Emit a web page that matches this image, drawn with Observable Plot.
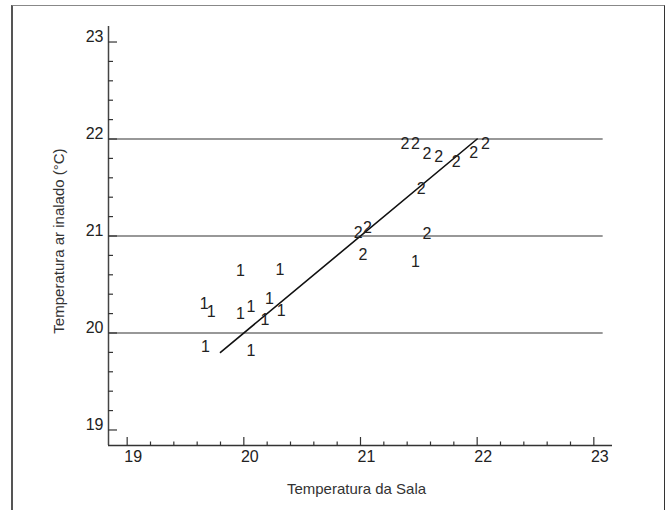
<!DOCTYPE html>
<html><head><meta charset="utf-8">
<script src="https://cdn.jsdelivr.net/npm/d3@7"></script>
<script src="https://cdn.jsdelivr.net/npm/@observablehq/plot@0.6"></script>
<style>
html,body{margin:0;padding:0;background:#fff;overflow:hidden;}
#wrap{position:relative;width:668px;height:510px;overflow:hidden;}
#frame{position:absolute;left:11px;top:5px;width:651px;height:600px;border-left:2px solid #555;border-top:1px solid #888;border-right:1px solid #333;}
#chart{position:absolute;left:0;top:0;}
</style></head><body>
<div id="wrap"><div id="frame"></div><div id="chart"></div></div>
<script>
// ---- data ----
const xTitle = "Temperatura da Sala";
const yTitle = "Temperatura ar inalado (°C)";
const xDomain = [18.84, 23.16];
const yDomain = [18.84, 23.16];
const xTicks = [19, 20, 21, 22, 23];
const yTicks = [19, 20, 21, 22, 23];
const xMinor = [19.2, 19.4, 19.6, 19.8, 20.2, 20.4, 20.6, 20.8, 21.2, 21.4, 21.6, 21.8, 22.2, 22.4, 22.6, 22.8];
const yMinor = [19.2, 19.4, 19.6, 19.8, 20.2, 20.4, 20.6, 20.8, 21.2, 21.4, 21.6, 21.8, 22.2, 22.4, 22.6, 22.8];
const gridY = [20, 21, 22];
const gridEnd = 23.08;
// point labels (group) and positions
const ptLabel = ["1","1","1","1","1","1","1","1","1","1","1","1",
                 "2","2","2","2","2","2","2","2","2","2","2","2"];
const ptX = [19.97, 20.31, 19.66, 19.72, 19.97, 20.06, 20.22, 20.18, 20.32, 19.67, 20.06, 21.47,
             21.38, 21.47, 21.57, 21.67, 21.82, 21.97, 22.07, 21.52, 20.98, 21.06, 21.57, 21.02];
const ptY = [20.64, 20.65, 20.30, 20.22, 20.20, 20.27, 20.35, 20.14, 20.23, 19.86, 19.82, 20.73,
             21.95, 21.95, 21.85, 21.82, 21.76, 21.86, 21.95, 21.49, 21.035, 21.08, 21.025, 20.81];
// fitted line
const fitX = [19.8, 22.0];
const fitY = [19.8, 22.0];

// ---- chart ----
const W = 668, H = 510, mL = 108, mR = 56, mT = 26, mB = 65;
const plotH = H - mT - mB, plotW = W - mL - mR;
const font = "'Liberation Sans', Arial, Helvetica, sans-serif";

const chart = Plot.plot({
  width: W, height: H,
  marginLeft: mL, marginRight: mR, marginTop: mT, marginBottom: mB,
  style: {fontFamily: font, fontSize: "16px", color: "#222", background: "transparent"},
  x: {domain: xDomain},
  y: {domain: yDomain},
  marks: [
    Plot.ruleY(gridY, {x1: xDomain[0], x2: gridEnd, stroke: "#333", strokeWidth: 1.2}),
    Plot.ruleX([xDomain[0]], {stroke: "#444", strokeWidth: 1.5}),
    Plot.ruleY([yDomain[0]], {stroke: "#333", strokeWidth: 1.5}),
    Plot.ruleX(xTicks, {insetTop: plotH - 8, stroke: "#333", strokeWidth: 1.2}),
    Plot.ruleX(xMinor, {insetTop: plotH - 3.5, stroke: "#333", strokeWidth: 1.2}),
    Plot.ruleY(yTicks, {insetRight: plotW - 9, stroke: "#333", strokeWidth: 1.2}),
    Plot.ruleY(yMinor, {insetRight: plotW - 5, stroke: "#333", strokeWidth: 1.2}),
    Plot.axisX({ticks: xTicks, tickSize: 0, tickPadding: 5, dx: 6, label: null, tickFormat: d => String(d), fontSize: 16, fill: "#222"}),
    Plot.axisY({ticks: yTicks, tickSize: 0, tickPadding: 5, dy: -5, label: null, tickFormat: d => String(d), fontSize: 16, fill: "#222"}),
    Plot.text([xTitle], {frameAnchor: "bottom", lineAnchor: "middle", textAnchor: "middle", dy: 43.5, dx: -4, fontSize: 15, fill: "#333"}),
    Plot.text([yTitle], {frameAnchor: "left", lineAnchor: "middle", textAnchor: "middle", rotate: -90, dx: -49, dy: 5, fontSize: 15, fill: "#333"}),
    Plot.line(fitX, {x: fitX, y: fitY, stroke: "#111", strokeWidth: 1.6}),
    Plot.text(ptLabel, {x: ptX, y: ptY, text: ptLabel, fontSize: 16, fill: "#222"})
  ]
});
document.getElementById("chart").appendChild(chart);
</script>
</body></html>
